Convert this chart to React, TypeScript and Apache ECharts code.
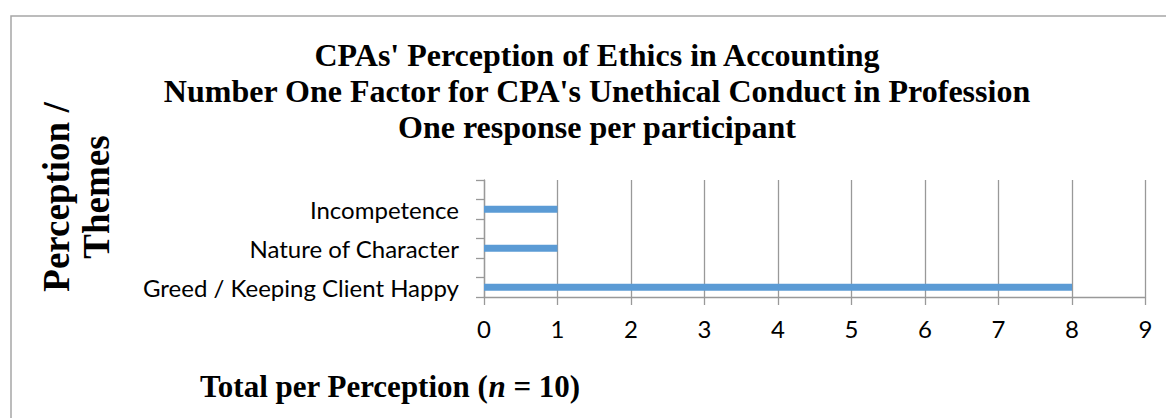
import React, { useEffect, useRef } from "react";
import * as echarts from "echarts";

const titleLines = [
  "CPAs' Perception of Ethics in Accounting",
  "Number One Factor for CPA's Unethical Conduct in Profession",
  "One response per participant",
];
const yAxisNameLines = ["Perception /", "Themes"];
const xAxisNameParts = ["Total per Perception (", "n", " = 10)"];
const categories = ["Greed / Keeping Client Happy", "", "Nature of Character", "", "Incompetence", ""];
const values = [8, null, 1, null, 1, null];
const xMin = 0;
const xMax = 9;
const xInterval = 1;

const SERIF = "'Liberation Serif', 'Times New Roman', serif";
const SANS = "Lato, Carlito, Calibri, 'Noto Sans', sans-serif";

export default function App() {
  const ref = useRef<HTMLDivElement>(null);
  useEffect(() => {
    if (!ref.current) return;
    const chart = echarts.init(ref.current, null, { renderer: "svg" });
    chart.setOption({
      animation: false,
      backgroundColor: "#ffffff",
      grid: { left: 484, right: 20.5, top: 180, bottom: 121, containLabel: false },
      xAxis: {
        type: "value",
        min: xMin,
        max: xMax,
        interval: xInterval,
        axisLine: { show: true, lineStyle: { color: "#999999", width: 1.3 } },
        axisTick: { show: true, length: 8, lineStyle: { color: "#999999", width: 1.3 } },
        splitLine: { show: true, lineStyle: { color: "#999999", width: 1.3 } },
        axisLabel: { color: "#000", fontFamily: SANS, fontSize: 24, margin: 19 },
      },
      yAxis: {
        type: "category",
        data: categories,
        axisLine: { show: true, lineStyle: { color: "#999999", width: 1.3 } },
        axisTick: { show: true, length: 8, alignWithLabel: false, lineStyle: { color: "#999999", width: 1.3 } },
        splitLine: { show: false },
        axisLabel: { color: "#000", fontFamily: SANS, fontSize: 24, margin: 25, interval: 0 },
      },
      series: [
        {
          type: "bar",
          data: values,
          barWidth: 7,
          itemStyle: { color: "#5B9BD5" },
        },
      ],
      graphic: [
        {
          type: "rect",
          shape: { x: 11, y: 16, width: 1300, height: 600 },
          style: { fill: "none", stroke: "#a6a6a6", lineWidth: 1.5 },
          silent: true,
        },
        {
          type: "text",
          x: 597,
          y: 91,
          style: {
            text: titleLines.join("\n"),
            font: `bold 32px ${SERIF}`,
            lineHeight: 36,
            fill: "#000",
            textAlign: "center",
            textVerticalAlign: "middle",
          },
        },
        {
          type: "text",
          x: 76,
          y: 197,
          rotation: Math.PI / 2,
          style: {
            text: yAxisNameLines.join("\n"),
            font: `bold 37px ${SERIF}`,
            lineHeight: 40,
            fill: "#000",
            textAlign: "center",
            textVerticalAlign: "middle",
          },
        },
        {
          type: "text",
          x: 200,
          y: 386,
          style: {
            text: `{a|${xAxisNameParts[0]}}{b|${xAxisNameParts[1]}}{a|${xAxisNameParts[2]}}`,
            rich: {
              a: { fontFamily: SERIF, fontWeight: "bold", fontSize: 31, fill: "#000" },
              b: { fontFamily: SERIF, fontWeight: "bold", fontStyle: "italic", fontSize: 31, fill: "#000" },
            },
            textAlign: "left",
            textVerticalAlign: "middle",
          },
        },
      ],
    });
    return () => chart.dispose();
  }, []);
  return (
    <div
      ref={ref}
      style={{ position: "fixed", left: 0, top: 0, width: 1166, height: 418, background: "#fff" }}
    />
  );
}
